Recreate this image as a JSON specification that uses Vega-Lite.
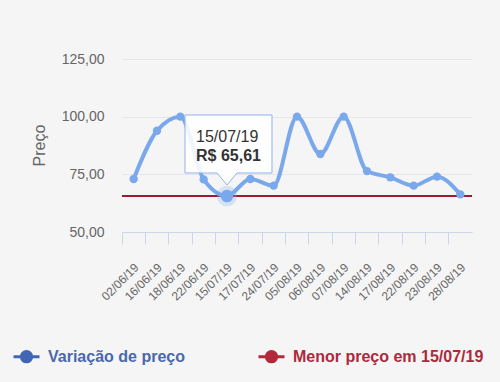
{
  "$schema": "https://vega.github.io/schema/vega-lite/v6.json",
  "width": 350,
  "height": 173,
  "autosize": "none",
  "padding": {"left": 122, "top": 59, "right": 28, "bottom": 150},
  "background": "#f5f5f5",
  "config": {
    "view": {"stroke": null},
    "font": "Liberation Sans"
  },
  "datasets": {
    "precos": [
      {"dia": "02/06/19", "preco": 73.0},
      {"dia": "16/06/19", "preco": 93.9},
      {"dia": "18/06/19", "preco": 100.0},
      {"dia": "22/06/19", "preco": 72.8},
      {"dia": "15/07/19", "preco": 65.61},
      {"dia": "17/07/19", "preco": 73.0},
      {"dia": "24/07/19", "preco": 70.1},
      {"dia": "05/08/19", "preco": 100.0},
      {"dia": "06/08/19", "preco": 83.8},
      {"dia": "07/08/19", "preco": 100.0},
      {"dia": "14/08/19", "preco": 76.4},
      {"dia": "17/08/19", "preco": 73.7},
      {"dia": "22/08/19", "preco": 70.1},
      {"dia": "23/08/19", "preco": 74.0},
      {"dia": "28/08/19", "preco": 66.3}
    ],
    "menor": [
      {"dia": "15/07/19", "preco": 65.61, "rotulo": "R$ 65,61"}
    ]
  },
  "data": {"name": "precos"},
  "encoding": {
    "x": {
      "field": "dia",
      "type": "ordinal",
      "sort": null,
      "bandPosition": 0.5,
      "scale": {
        "type": "band",
        "paddingInner": 0,
        "paddingOuter": 0,
        "domain": ["02/06/19", "16/06/19", "18/06/19", "22/06/19", "15/07/19", "17/07/19", "24/07/19", "05/08/19", "06/08/19", "07/08/19", "14/08/19", "17/08/19", "22/08/19", "23/08/19", "28/08/19"]
      },
      "axis": {
        "title": null,
        "bandPosition": 0,
        "labelOffset": 3,
        "labelAngle": -45,
        "labelAlign": "right",
        "labelBaseline": "middle",
        "labelPadding": 21,
        "labelFontSize": 12,
        "labelColor": "#666666",
        "tickColor": "#ccd6eb",
        "tickSize": 12,
        "domainColor": "#ccd6eb",
        "grid": false
      }
    },
    "y": {
      "field": "preco",
      "type": "quantitative",
      "scale": {"domain": [50, 125], "nice": false, "zero": false},
      "axis": {
        "title": "Preço",
        "values": [50, 75, 100, 125],
        "labelExpr": "replace(format(datum.value, '.2f'), '.', ',')",
        "labelFontSize": 14,
        "labelColor": "#666666",
        "labelPadding": 18,
        "ticks": false,
        "domain": false,
        "gridColor": "#e6e6e6",
        "titleFontSize": 16,
        "titleFontWeight": "normal",
        "titleColor": "#666666",
        "titleX": -83,
        "titleY": 86,
        "titleBaseline": "middle",
        "titleAlign": "center"
      }
    }
  },
  "layer": [
    {
      "data": {"name": "menor"},
      "mark": {"type": "rule", "strokeWidth": 2, "color": "#9b1b30"},
      "encoding": {
        "x": null,
        "y": {"field": "preco", "type": "quantitative"}
      }
    },
    {
      "mark": {"type": "line", "strokeWidth": 4, "interpolate": "monotone", "color": "#7aa8ec"},
      "encoding": {}
    },
    {
      "mark": {"type": "point", "filled": true, "size": 70, "opacity": 1, "color": "#7aa8ec"},
      "encoding": {}
    },
    {
      "data": {"name": "menor"},
      "mark": {"type": "point", "filled": true, "opacity": 0},
      "encoding": {
        "color": {
          "datum": "Menor preço em 15/07/19",
          "type": "nominal",
          "scale": {
            "domain": ["Variação de preço", "Menor preço em 15/07/19"],
            "range": ["#4166b3", "#b02a3c"]
          },
          "legend": {
            "title": null,
            "orient": "none",
            "direction": "horizontal",
            "legendX": -110,
            "legendY": 283,
            "padding": 0,
            "columnPadding": 67,
            "symbolType": "M-1,0H1M-0.4,0A0.4,0.4 0 1,1 0.4,0A0.4,0.4 0 1,1 -0.4,0Z",
            "symbolSize": 676,
            "symbolStrokeWidth": 3,
            "symbolOpacity": 1,
            "labelOffset": 7,
            "labelFontSize": 16,
            "labelFontWeight": "bold",
            "labelFont": "Liberation Sans",
            "labelLimit": 400,
            "encode": {
              "symbols": {
                "update": {
                  "stroke": {"signal": "datum.value == 'Menor preço em 15/07/19' ? '#b02a3c' : '#4166b3'"},
                  "opacity": {"value": 1},
                  "fillOpacity": {"value": 1},
                  "strokeOpacity": {"value": 1}
                }
              },
              "labels": {
                "update": {
                  "fill": {"signal": "datum.value == 'Menor preço em 15/07/19' ? '#ac2a3c' : '#4a68ad'"}
                }
              }
            }
          }
        }
      }
    },
    {
      "data": {"name": "menor"},
      "mark": {"type": "point", "filled": true, "size": 420, "opacity": 0.25, "color": "#7aa8ec"},
      "encoding": {}
    },
    {
      "data": {"name": "menor"},
      "mark": {"type": "point", "filled": true, "size": 160, "opacity": 1, "color": "#7aa8ec"},
      "encoding": {}
    },
    {
      "data": {"name": "menor"},
      "mark": {
        "type": "point",
        "shape": "M-0.42,-0.81H0.45V-0.23H0.1L0,-0.11L-0.1,-0.23H-0.42Z",
        "size": 40000,
        "filled": false,
        "fill": "#ffffff",
        "fillOpacity": 0.88,
        "stroke": "#8fb3ea",
        "strokeWidth": 1,
        "opacity": 1
      },
      "encoding": {}
    },
    {
      "data": {"name": "menor"},
      "mark": {"type": "text", "align": "left", "baseline": "alphabetic", "dx": -31, "dy": -54, "fontSize": 16, "color": "#333333"},
      "encoding": {"text": {"field": "dia"}}
    },
    {
      "data": {"name": "menor"},
      "mark": {"type": "text", "align": "left", "baseline": "alphabetic", "dx": -31, "dy": -35, "fontSize": 16, "fontWeight": "bold", "color": "#333333"},
      "encoding": {"text": {"field": "rotulo"}}
    }
  ]
}
